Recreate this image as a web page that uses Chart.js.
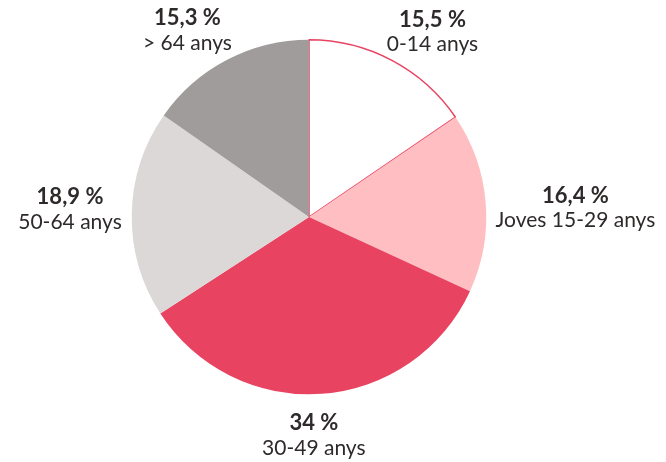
<!DOCTYPE html>
<html>
<head>
<meta charset="utf-8">
<script src="https://cdn.jsdelivr.net/npm/chart.js@4"></script>
<style>
  html, body { margin: 0; padding: 0; background: #fff; }
  #wrap { width: 666px; height: 462px; }
</style>
</head>
<body>
<div id="wrap"><canvas id="pieChart"></canvas></div>
<script>
const groups = ['0-14 anys', 'Joves 15-29 anys', '30-49 anys', '50-64 anys', '> 64 anys'];
const shares = [15.5, 16.4, 34, 18.9, 15.3];
const shareLabels = ['15,5 %', '16,4 %', '34 %', '18,9 %', '15,3 %'];
const sliceColors = ['#ffffff', '#ffbfc2', '#e84462', '#dcd8d8', '#a09c9b'];

// labels outside each slice, placed from the arc geometry
const outsideLabels = {
    id: 'outsideLabels',
    afterDatasetsDraw(chart) {
        const ctx = chart.ctx;
        const arcs = chart.getDatasetMeta(0).data;
        ctx.save();
        ctx.textAlign = 'center';
        ctx.textBaseline = 'middle';
        ctx.fillStyle = '#2e2a2a';
        arcs.forEach(function (arc, i) {
            const mid = (arc.startAngle + arc.endAngle) / 2;
            const s = Math.cos(mid), c = Math.sin(mid);
            ctx.font = '21px Lato';
            const w = ctx.measureText(groups[i]).width;
            const reach = arc.outerRadius + 10 + 40 * c * c;
            const f = Math.min(1, Math.abs(s) / 0.3);
            const x = arc.x + s * f * (reach + w / 2);
            const y = arc.y - 8 + (arc.outerRadius + 50) * c * Math.abs(c);
            ctx.font = 'bold 22px Lato';
            ctx.fillText(shareLabels[i], x, y - 12);
            ctx.font = '21px Lato';
            ctx.fillText(groups[i], x, y + 13);
        });
        ctx.restore();
    }
};

const ctx = document.getElementById('pieChart').getContext('2d');
const pieChart = new Chart(ctx, {
    type: 'pie',
    data: {
        labels: groups,
        datasets: [{
            data: shares,
            backgroundColor: sliceColors,
            borderColor: ['#e84462', '#ffbfc2', '#e84462', '#dcd8d8', '#a09c9b'],
            borderWidth: [1.5, 0, 0, 0, 0]
        }]
    },
    options: {
        responsive: true,
        maintainAspectRatio: false,
        animation: false,
        layout: {
            padding: { left: 131, right: 179, top: 39, bottom: 67 }
        },
        plugins: {
            legend: { display: false },
            tooltip: { enabled: false }
        }
    },
    plugins: [outsideLabels]
});
</script>
</body>
</html>
